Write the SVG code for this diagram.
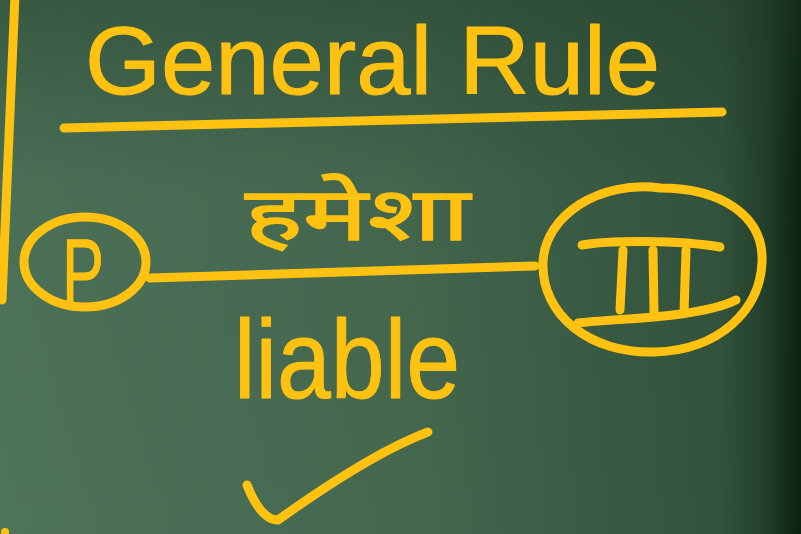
<svg xmlns="http://www.w3.org/2000/svg" width="801" height="534" viewBox="0 0 801 534">
  <defs>
    <linearGradient id="bgH" x1="0" y1="0" x2="1" y2="0">
      <stop offset="0" stop-color="#4d7359"/>
      <stop offset="0.5" stop-color="#45684f"/>
      <stop offset="0.9" stop-color="#33533c"/>
      <stop offset="0.955" stop-color="#22402b"/>
      <stop offset="1" stop-color="#0a1f10"/>
    </linearGradient>
    <linearGradient id="bgV" x1="0" y1="0" x2="0" y2="1">
      <stop offset="0" stop-color="#1e3a26" stop-opacity="0.45"/>
      <stop offset="0.35" stop-color="#1e3a26" stop-opacity="0.05"/>
      <stop offset="1" stop-color="#1e3a26" stop-opacity="0"/>
    </linearGradient>
    <style>
      .ink { fill: none; stroke: #ffc210; stroke-width: 9; stroke-linecap: round; stroke-linejoin: round; }
      .txt { fill: #ffc210; stroke: #ffc210; stroke-width: 1; stroke-linejoin: round; font-family: "Liberation Sans", "DejaVu Sans", sans-serif; }
      .hin { fill: #ffc210; stroke: #ffc210; stroke-width: 1.5; font-family: "Noto Sans Devanagari", "Noto Sans", "Lohit Devanagari", "FreeSans", sans-serif; }
    </style>
  </defs>

  <rect width="801" height="534" fill="url(#bgH)"/>
  <rect width="801" height="534" fill="url(#bgV)"/>

  <!-- board margin line -->
  <path class="ink" d="M15,-5 L2,300" stroke-width="7"/>
  <circle cx="5" cy="532" r="4" fill="#ffc210"/>

  <!-- title -->
  <g id="title">
    <text class="txt" x="85" y="94" font-size="96" textLength="575" lengthAdjust="spacingAndGlyphs">General Rule</text>
    <path class="ink" d="M64,128 L722,112"/>
  </g>

  <!-- Hindi label -->
  <g id="label-hamesha">
    <text class="hin" x="245" y="240" font-size="74" textLength="225" lengthAdjust="spacingAndGlyphs">हमेशा</text>
  </g>

  <g id="connectors">
    <path class="ink" d="M150,278 L535,266"/>
  </g>

  <g id="node-p">
    <ellipse class="ink" cx="85" cy="262" rx="61" ry="45"/>
    <text class="txt" x="62" y="306" font-size="96" textLength="42" lengthAdjust="spacingAndGlyphs">P</text>
  </g>

  <g id="node-iii">
    <path class="ink" d="M660,188 C600,180 545,215 543,262 C541,315 590,354 655,352 C720,350 760,310 762,262 C764,215 720,188 660,188"/>
    <path class="ink" d="M582,245 C610,240 680,240 720,247"/>
    <path class="ink" d="M623,250 L620,310 M653,250 L654,312 M686,250 L684,312"/>
    <path class="ink" d="M578,323 C620,318 700,318 736,300"/>
  </g>

  <g id="label-liable">
    <text class="txt" x="234" y="398" font-size="112" textLength="226" lengthAdjust="spacingAndGlyphs">liable</text>
  </g>

  <g id="check">
    <path class="ink" d="M247,485 C255,505 265,520 278,520 C320,490 380,450 428,432" stroke-width="11"/>
  </g>
</svg>
